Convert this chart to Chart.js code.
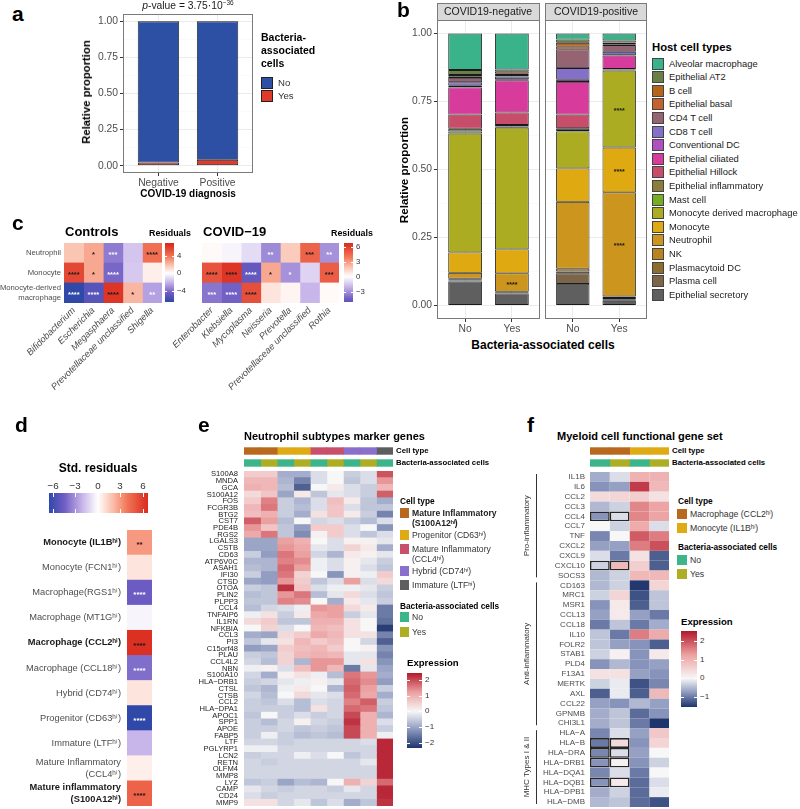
<!DOCTYPE html>
<html>
<head>
<meta charset="utf-8">
<title>Figura</title>
<script src="https://cdn.jsdelivr.net/npm/chart.js@4.4.1/dist/chart.umd.min.js"></script>
<style>
  body { margin: 0; background: #fff; }
  #fig { position: relative; width: 800px; height: 809px; overflow: hidden; font-family: "Liberation Sans", Arial, sans-serif; }
  #fig canvas { position: absolute; }
  .t { position: absolute; white-space: nowrap; line-height: 1.25; }
  .b { position: absolute; box-sizing: border-box; }
</style>
</head>
<body>
<div id="fig"></div>
<script>
// ------------------------------
// a: células con bacterias por diagnóstico
// ------------------------------
const diagnosticos = ["Negative", "Positive"];
const bactNo = [0.978, 0.959];
const bactYes = [0.022, 0.041];

// ------------------------------
// b: tipos celulares del huésped (orden de la leyenda)
// ------------------------------
const bactCats = ["No", "Yes"];
const cellTypes = ["Alveolar macrophage", "Epithelial AT2", "B cell", "Epithelial basal", "CD4 T cell", "CD8 T cell",
  "Conventional DC", "Epithelial ciliated", "Epithelial Hillock", "Epithelial inflammatory", "Mast cell",
  "Monocyte derived macrophage", "Monocyte", "Neutrophil", "NK", "Plasmacytoid DC", "Plasma cell", "Epithelial secretory"];
const cellColors = ["#3bb38a", "#6a7f46", "#b4651b", "#c4622d", "#946472", "#8470c9", "#b050c0", "#d73b9b", "#c84d6b",
  "#8b7d3a", "#77ad22", "#abac22", "#dfa912", "#cc961e", "#b9841f", "#8e6d2d", "#7b6649", "#5f5f5f"];
const negNo  = [0.134, 0.018, 0.005, 0.006, 0.016, 0.013, 0.006, 0.100, 0.052, 0.010, 0.008, 0.437, 0.075, 0.022, 0.004, 0.002, 0.004, 0.088];
const negYes = [0.132, 0.008, 0.008, 0.004, 0.006, 0.010, 0.004, 0.118, 0.046, 0.006, 0.004, 0.448, 0.088, 0.068, 0.002, 0.002, 0.002, 0.044];
const posNo  = [0.022, 0.012, 0.014, 0.010, 0.069, 0.043, 0.008, 0.120, 0.050, 0.007, 0.005, 0.136, 0.123, 0.246, 0.010, 0.007, 0.039, 0.079];
const posYes = [0.025, 0.008, 0.006, 0.003, 0.025, 0.012, 0.002, 0.049, 0.002, 0.002, 0.002, 0.283, 0.165, 0.383, 0.006, 0.004, 0.006, 0.017];
const negStars = { "Neutrophil": ["", "****"] };
const posStars = { "Monocyte derived macrophage": ["", "****"], "Monocyte": ["", "****"], "Neutrophil": ["", "****"] };

// ------------------------------
// c: residuos bacterias x tipo celular
// ------------------------------
const cRows = ["Neutrophil", "Monocyte", ["Monocyte-derived", "macrophage"]];
const ctrlGenera = ["Bifidobacterium", "Escherichia", "Megasphaera", "Prevotellaceae unclassified", "Shigella"];
const ctrlResid = [[1.8, 2.6, -3.6, -1.6, 4.2], [5.6, 2.6, -4.2, -1.5, 0.5], [-6.5, -5.2, 6.3, 2.2, -2.6]];
const ctrlStars = [["", "*", "***", "", "****"], ["****", "*", "****", "", ""], ["****", "****", "****", "*", "**"]];
const covGenera = ["Enterobacter", "Klebsiella", "Mycoplasma", "Neisseria", "Prevotella", "Prevotellaceae unclassified", "Rothia"];
const covResid = [[0.2, -0.3, -1.0, -3.2, 1.6, 4.6, -3.0], [5.2, 6.3, -4.8, 2.6, -3.0, -1.2, 4.8], [-3.8, -4.4, 5.3, 0.8, 0.3, -2.0, 0.2]];
const covStars = [["", "", "", "**", "", "***", "**"], ["****", "****", "****", "*", "*", "", "***"], ["***", "****", "****", "", "", "", ""]];

// ------------------------------
// d: subtipos mieloides
// ------------------------------
const dSubtypes = ["Monocyte (IL1Bʰⁱ)", "Monocyte (FCN1ʰⁱ)", "Macrophage(RGS1ʰⁱ)", "Macrophage (MT1Gʰⁱ)", "Macrophage (CCL2ʰⁱ)",
  "Macrophage (CCL18ʰⁱ)", "Hybrid (CD74ʰⁱ)", "Progenitor (CD63ʰⁱ)", "Immature (LTFʰⁱ)",
  ["Mature Inflammatory", "(CCL4ʰⁱ)"], ["Mature inflammatory", "(S100A12ʰⁱ)"]];
const dResid = [3.0, 0.8, -4.6, -0.3, 6.5, -4.0, 0.8, -6.5, -2.0, 0.5, 4.6];
const dStars = ["**", "", "****", "", "****", "****", "", "****", "", "", "****"];
const dBold = [true, false, false, false, true, false, false, false, false, false, true];

// ------------------------------
// e: genes marcadores de neutrófilos
// ------------------------------
const eColType = ["S100A12", "S100A12", "CD63", "CD63", "CCL4", "CCL4", "CD74", "CD74", "LTF"];
const eColBact = ["No", "Yes", "No", "Yes", "No", "Yes", "No", "Yes", "No"];
const eGenes = ["S100A8", "MNDA", "GCA", "S100A12", "FOS", "FCGR3B", "BTG2", "CST7", "PDE4B", "RGS2", "LGALS3", "CSTB", "CD63",
  "ATP6V0C", "ASAH1", "IFI30", "CTSD", "OTOA", "PLIN2", "PLPP3", "CCL4", "TNFAIP6", "IL1RN", "NFKBIA", "CCL3", "PI3",
  "C15orf48", "PLAU", "CCL4L2", "NBN", "S100A10", "HLA−DRB1", "CTSL", "CTSB", "CCL2", "HLA−DPA1", "APOC1", "SPP1",
  "APOE", "FABP5", "LTF", "PGLYRP1", "LCN2", "RETN", "OLFM4", "MMP8", "LYZ", "CAMP", "CD24", "MMP9"];
const eExpr = [
  [0.6, 0.6, -0.9, -0.9, -0.3, 0.0, -0.5, -0.3, 1.9],
  [0.9, 0.9, -0.8, -1.4, -0.3, 0.0, -0.6, -0.3, 1.3],
  [1.0, 0.9, -0.7, -1.8, 0.0, 0.2, -0.3, -0.5, 0.9],
  [0.4, 0.7, -1.0, 0.2, -0.6, -0.2, -0.3, -0.5, 1.8],
  [0.6, 1.5, -0.5, -0.8, -0.3, 0.8, 0.2, -0.6, -0.9],
  [0.9, 1.6, -0.5, -0.7, -0.3, 0.7, -0.3, -0.6, -0.6],
  [0.8, 1.0, -0.5, -0.9, 0.3, 0.7, 0.2, -0.5, -1.4],
  [1.8, 1.2, -0.7, 0.0, -0.4, -0.3, -0.5, -0.7, -0.3],
  [1.3, 0.7, -0.6, -1.1, 0.6, 0.6, -0.3, 0.0, -1.2],
  [1.1, 1.6, -0.6, -1.3, 0.1, 0.6, -0.3, -0.6, -0.3],
  [-1.0, -1.0, 1.2, 1.0, 0.0, -0.3, 0.1, 0.1, -0.2],
  [-1.0, -1.0, 1.3, 1.1, -0.2, -0.3, 0.5, 0.2, -0.9],
  [-0.5, -1.1, 1.6, 1.2, -0.4, -0.8, 0.2, 0.1, -0.2],
  [-0.8, -0.8, 1.5, 1.4, -0.1, -0.3, 0.1, -0.2, -0.5],
  [-0.7, -0.8, 1.7, 1.2, -0.1, -0.3, 0.1, -0.3, -0.6],
  [-0.5, -1.1, 1.6, 0.5, 0.0, -1.2, 0.1, -0.1, 0.6],
  [-1.0, -1.1, 1.3, 0.6, -0.6, -0.3, 1.2, -0.3, 0.4],
  [-0.5, -0.6, 2.2, 0.7, -0.3, -0.1, -0.1, -0.2, -0.5],
  [-0.7, -0.6, 1.3, 1.6, -0.7, -0.2, 0.4, -0.3, -0.6],
  [-0.6, -0.6, 1.5, 1.4, 0.0, -0.9, 0.2, -0.2, -0.5],
  [-0.7, -0.4, -0.3, -0.1, 1.3, 1.2, 0.4, 0.2, -1.5],
  [-0.1, 0.3, -0.5, 0.2, 1.1, 1.2, -0.5, -0.2, -1.5],
  [0.4, 0.6, -0.6, -0.6, 1.0, 1.0, 0.3, 0.0, -1.6],
  [0.0, 0.5, -0.3, 0.0, 0.9, 0.8, 0.3, 0.0, -2.2],
  [-0.9, -1.0, 0.4, 0.6, 1.1, 0.9, 0.3, 0.3, -1.4],
  [-0.6, -0.2, 0.3, 0.9, 0.6, 0.8, 0.0, -0.4, -1.8],
  [-1.1, -1.0, 0.6, 0.8, 0.9, 0.6, 0.0, 0.1, -1.2],
  [-0.5, -0.6, 0.5, 0.9, 1.0, 0.9, -0.2, -0.2, -1.4],
  [-0.4, -0.7, 0.5, -0.8, 1.3, 1.3, -0.2, 0.3, -1.2],
  [-0.1, 0.1, -0.3, 0.8, 1.3, 0.9, -1.5, -0.2, -1.0],
  [-0.4, -0.9, 0.1, 0.3, -0.1, -0.7, 1.6, 1.3, -0.9],
  [-0.5, -0.4, -0.2, -0.1, 0.1, -0.2, 1.7, 1.4, -1.1],
  [-0.6, -0.8, -0.1, 0.2, 0.0, -0.8, 1.8, 1.2, -0.5],
  [-0.4, -0.7, 0.0, 0.4, -0.2, -0.3, 1.7, 1.1, -0.9],
  [-0.5, -0.6, -0.3, -0.7, -0.3, -0.4, 1.5, 1.8, -0.5],
  [-0.5, -0.5, -0.5, -0.7, 0.3, -0.4, 1.7, 1.6, -0.6],
  [-0.6, 0.0, -0.5, -0.3, -0.5, -0.4, 2.0, 1.0, -0.8],
  [-0.5, -0.7, -0.4, 0.1, -0.4, -0.5, 2.2, 1.0, -0.3],
  [-0.5, -0.5, -0.4, -0.6, -0.5, -0.6, 2.0, 1.0, -0.5],
  [-0.5, -0.1, -0.5, -0.7, -0.6, -0.7, 2.0, 1.0, -0.1],
  [-0.4, -0.4, -0.5, -0.4, -0.4, -0.4, -0.4, -0.3, 2.3],
  [-0.1, -0.1, -0.4, -0.4, -0.4, -0.4, -0.4, -0.4, 2.3],
  [-0.5, -0.4, -0.4, -0.1, -0.3, 0.0, -0.6, -0.4, 2.3],
  [-0.4, -0.5, -0.4, -0.4, -0.4, -0.4, -0.4, -0.2, 2.3],
  [-0.4, -0.4, -0.4, -0.4, -0.4, -0.4, -0.4, -0.4, 2.3],
  [-0.4, -0.4, -0.4, -0.4, -0.4, -0.4, -0.4, -0.4, 2.3],
  [-0.6, -0.5, -1.0, -0.7, -0.8, 0.0, 1.0, 0.5, 1.7],
  [-0.2, -0.4, -0.5, -0.4, -0.4, -0.5, -0.2, -0.4, 2.3],
  [-0.3, -0.5, -0.4, -0.4, -0.4, -0.4, -0.4, -0.4, 2.3],
  [0.3, 0.3, -0.4, -0.2, -0.6, -0.3, -0.9, -0.6, 2.2]
];

// ------------------------------
// f: genes funcionales mieloides
// ------------------------------
const fColType = ["CCL2", "CCL2", "IL1B", "IL1B"];
const fColBact = ["No", "Yes", "No", "Yes"];
const fGenes = ["IL1B", "IL6", "CCL2", "CCL3", "CCL4", "CCL7", "TNF", "CXCL2", "CXCL9", "CXCL10", "SOCS3",
  "CD163", "MRC1", "MSR1", "CCL13", "CCL18", "IL10", "FOLR2", "STAB1", "PLD4", "F13A1", "MERTK", "AXL", "CCL22", "GPNMB", "CHI3L1",
  "HLA−A", "HLA−B", "HLA−DRA", "HLA−DRB1", "HLA−DQA1", "HLA−DQB1", "HLA−DPB1", "HLA−DMB"];
const fGroups = ["Pro-inflammatory", "Anti-inflammatory", "MHC Types I & II"];
const fGroupSizes = [11, 15, 8];
const fBoxedGenes = ["CCL4", "CXCL10", "HLA−B", "HLA−DRA", "HLA−DRB1", "HLA−DQB1"];
const fExpr = [
  [-0.6, -0.2, 1.0, 1.0], [-0.8, -0.7, 2.2, 0.9], [0.4, 0.5, 0.6, 0.3], [-0.5, -0.3, 1.5, 1.2],
  [-0.8, -0.2, 1.5, 1.2], [0.0, -0.3, 1.1, -0.2], [-0.9, 0.0, 1.9, 1.6], [-0.7, -0.7, 1.6, 2.0],
  [-0.2, -1.0, 0.3, -1.2], [-0.3, 0.9, 0.6, -1.2], [-0.5, -0.3, 0.9, 0.9],
  [-0.5, -0.3, -1.5, 0.5], [-0.3, 0.5, -1.3, -0.4], [-0.8, 0.2, -1.2, -0.4], [-0.7, 0.2, -0.7, -1.0],
  [-1.0, -0.4, -1.0, -0.6], [-0.4, -1.0, 1.6, 1.1], [-0.4, -0.7, -0.8, -1.2], [-0.3, 0.1, -0.8, 0.2],
  [-0.8, -0.5, -0.8, -0.7], [0.3, 0.3, -0.7, -0.8], [-0.3, -0.1, -1.3, -0.9], [-1.2, -0.1, -1.2, 0.9],
  [-0.7, -0.8, -0.5, -0.7], [-0.6, -0.4, -1.1, -0.8], [-0.6, -0.4, -1.0, -1.6],
  [-0.9, -0.2, -0.7, 0.7], [-1.0, 0.4, -0.8, 0.5], [-0.9, -0.2, -0.7, 0.0], [-0.8, 0.1, -0.8, -0.3],
  [-0.9, -0.2, -1.0, 0.0], [-0.8, 0.2, -1.1, -0.2], [-0.6, -0.3, -1.1, -0.1], [-0.5, -0.4, -1.1, -1.3]
];

// colores de anotación
const subtypeColors = { S100A12: "#b8691e", CD63: "#dfaa14", CCL4: "#c8506a", CD74: "#8a6fcc", LTF: "#5e5e5e", CCL2: "#b8691e", IL1B: "#dfaa14" };
const bactColors = { No: "#3cb58a", Yes: "#adae23" };

// ------------------------------
// utilidades
// ------------------------------
const FONT = '"Liberation Sans", Arial, sans-serif';
const fig = document.getElementById("fig");

function put(html, x, y, st) {
  st = st || {};
  const d = document.createElement("div");
  d.className = "t";
  d.innerHTML = html;
  const s = d.style;
  s.left = x + "px"; s.top = y + "px";
  s.fontSize = (st.size || 10) + "px";
  s.fontWeight = st.bold ? "bold" : "normal";
  s.color = st.color || "#1a1a1a";
  if (st.italic) s.fontStyle = "italic";
  const ax = st.align === "center" ? "-50%" : st.align === "right" ? "-100%" : "0";
  s.transform = "translate(" + ax + ",-50%)" + (st.rot ? " rotate(" + st.rot + "deg)" : "");
  fig.appendChild(d);
}

function rect(x, y, w, h, fill, border) {
  const d = document.createElement("div");
  d.className = "b";
  d.style.cssText = `left:${x}px;top:${y}px;width:${w}px;height:${h}px;background:${fill};` + (border ? `border:1px solid ${border};` : "");
  fig.appendChild(d);
}

function canvas(b) {
  const c = document.createElement("canvas");
  c.width = b[2]; c.height = b[3];
  c.style.left = b[0] + "px"; c.style.top = b[1] + "px";
  c.style.width = b[2] + "px"; c.style.height = b[3] + "px";
  fig.appendChild(c);
  return c;
}

function lerpStops(stops, v) {
  if (v <= stops[0][0]) return stops[0][1];
  for (let k = 1; k < stops.length; k++) {
    if (v <= stops[k][0]) {
      const a = stops[k - 1], b = stops[k], t = (v - a[0]) / (b[0] - a[0]);
      return a[1].map((c, i) => Math.round(c + (b[1][i] - c) * t));
    }
  }
  return stops[stops.length - 1][1];
}
const rgb = c => `rgb(${c[0]},${c[1]},${c[2]})`;

const residStops = [[-6.6, [45, 72, 168]], [-4.5, [110, 92, 195]], [-2.2, [195, 175, 232]], [0, [255, 255, 255]],
  [2.0, [250, 190, 170]], [4.0, [242, 115, 85]], [6.6, [218, 45, 32]]];
const residColor = v => rgb(lerpStops(residStops, v));

function exprColor(lo, hi) {
  return v => rgb(v >= 0
    ? lerpStops([[0, [247, 247, 247]], [hi * 0.5, [236, 160, 160]], [hi, [178, 24, 43]]], v)
    : lerpStops([[lo, [30, 52, 108]], [lo * 0.5, [140, 152, 190]], [0, [247, 247, 247]]], v));
}
const eColor = exprColor(-2.32, 2.44);
const fColor = exprColor(-1.53, 2.53);

function colorbar(x, y, w, h, lo, hi, colorFn, ticks, vertical, fs) {
  const stops = [];
  for (let k = 0; k <= 40; k++) stops.push(colorFn(lo + (hi - lo) * k / 40) + " " + (k * 2.5) + "%");
  const d = document.createElement("div");
  d.className = "b";
  d.style.cssText = `left:${x}px;top:${y}px;width:${w}px;height:${h}px;background:linear-gradient(${vertical ? "to top" : "to right"},${stops.join(",")})`;
  fig.appendChild(d);
  ticks.forEach(v => {
    const f = (v - lo) / (hi - lo);
    const lab = v < 0 ? "−" + Math.abs(v) : String(v);
    if (vertical) {
      const py = Math.round(y + h - f * h);
      rect(x, py, w * 0.2, 1, "#fff");
      rect(x + w * 0.8, py, w * 0.2, 1, "#fff");
      put(lab, x + w + 3, py, { size: fs, color: "#333" });
    } else {
      const px = Math.round(x + f * w);
      rect(px, y, 1, h * 0.2, "#fff");
      rect(px, y + h * 0.8, 1, h * 0.2, "#fff");
      put(lab, px, y - 7, { size: fs, color: "#333", align: "center" });
    }
  });
}

// marco del panel (theme_bw)
const frame = {
  id: "frame",
  afterDraw(chart) {
    const a = chart.chartArea, c = chart.ctx;
    c.save();
    c.strokeStyle = "#7a7a7a"; c.lineWidth = 1;
    c.strokeRect(Math.round(a.left) + 0.5, Math.round(a.top) + 0.5, Math.round(a.width) - 1, Math.round(a.height) - 1);
    c.restore();
  }
};

// asteriscos en el centro de cada celda / segmento
function cellStars(textAt, colorAt, size) {
  return {
    id: "cellStars",
    afterDatasetsDraw(chart) {
      const c = chart.ctx, horiz = chart.options.indexAxis === "y";
      c.save();
      c.font = `bold ${size}px ${FONT}`;
      c.textAlign = "center"; c.textBaseline = "middle";
      chart.data.datasets.forEach((ds, di) => {
        chart.getDatasetMeta(di).data.forEach((el, i) => {
          const s = textAt(di, i);
          if (!s) return;
          const x = horiz ? (el.x + el.base) / 2 : el.x;
          const y = horiz ? el.y : (el.y + el.base) / 2;
          c.fillStyle = colorAt(di, i);
          c.fillText(s, x, y + size * 0.3);
        });
      });
      c.restore();
    }
  };
}

// barras apiladas estilo ggplot
function stackChart(box, cats, series, colors, plugins, o) {
  const yTicks = [0, 0.125, 0.25, 0.375, 0.5, 0.625, 0.75, 0.875, 1];
  const major = v => Math.abs(v * 4 - Math.round(v * 4)) < 1e-6;
  return new Chart(canvas(box), {
    type: "bar",
    data: {
      datasets: series.map((vals, k) => ({
        data: vals.map((v, i) => ({ x: i, y: v })),
        backgroundColor: colors[k], borderColor: "#1a1a1a", borderWidth: 0.9, borderSkipped: false,
        barPercentage: o.barPct, categoryPercentage: 1, inflateAmount: 0
      }))
    },
    options: {
      responsive: false, animation: false, events: [],
      layout: { padding: { top: o.top, left: 0, right: 0, bottom: 0 } },
      plugins: { legend: { display: false }, tooltip: { enabled: false } },
      scales: {
        x: {
          type: "linear", stacked: true, offset: false, min: -0.6, max: cats.length - 0.4,
          afterBuildTicks: s => { s.ticks = cats.map((c, i) => ({ value: i })); },
          ticks: { callback: (v, i) => cats[i], color: "#4d4d4d", font: { size: 10.3, family: FONT }, padding: 1, maxRotation: 0, autoSkip: false },
          grid: { offset: false, color: "#ebebeb", tickColor: "#333", tickLength: 3 },
          border: { display: false },
          afterFit: s => { s.height = o.xH; s.paddingLeft = 0; s.paddingRight = 0; }
        },
        y: {
          stacked: true, min: -0.05, max: 1.05,
          afterBuildTicks: s => { s.ticks = yTicks.map(v => ({ value: v })); },
          ticks: { display: o.yW > 0, callback: v => major(v) ? v.toFixed(2) : "", color: "#4d4d4d", font: { size: 10.3, family: FONT }, padding: 2, autoSkip: false },
          grid: {
            color: c => major(c.tick.value) ? "#ebebeb" : "#f6f6f6",
            lineWidth: c => major(c.tick.value) ? 1 : 0.6,
            drawTicks: o.yW > 0, tickLength: 3,
            tickColor: c => major(c.tick.value) ? "#333" : "rgba(0,0,0,0)"
          },
          border: { display: false },
          afterFit: s => { s.width = o.yW; s.paddingTop = 0; s.paddingBottom = 0; }
        }
      }
    },
    plugins: [frame].concat(plugins)
  });
}

// mapa de calor con barras horizontales apiladas (una serie por columna)
function heatmap(box, rows, colors2D, o) {
  const nCol = colors2D[0].length;
  const datasets = [];
  for (let j = 0; j < nCol; j++) {
    datasets.push({
      data: rows.map(() => 1),
      backgroundColor: colors2D.map(r => r[j]),
      borderColor: o.boxed ? o.boxed.map(r => r[j] ? "#262626" : "rgba(0,0,0,0)") : "rgba(0,0,0,0)",
      borderWidth: o.boxed ? o.boxed.map(r => r[j] ? 1.6 : 0) : 0,
      borderSkipped: false, barPercentage: 1, categoryPercentage: o.catPct || 1,
      inflateAmount: o.boxed ? 0 : 0.4
    });
  }
  const xLab = o.xLabels;
  return new Chart(canvas(box), {
    type: "bar",
    data: { labels: rows, datasets },
    options: {
      indexAxis: "y", responsive: false, animation: false, events: [],
      layout: { padding: { left: o.padLeft || 0, top: 0, right: 0, bottom: 0 } },
      plugins: { legend: { display: false }, tooltip: { enabled: false } },
      scales: {
        x: {
          stacked: true, min: 0, max: nCol, display: !!xLab,
          afterBuildTicks: s => { if (xLab) s.ticks = xLab.map((c, i) => ({ value: i + 0.5 })); },
          ticks: {
            callback: (v, i) => xLab ? xLab[i] : "", autoSkip: false, minRotation: 45, maxRotation: 45,
            color: "#4d4d4d", font: { size: 9.3, family: FONT, style: "italic" }, padding: 2
          },
          grid: { display: false, drawTicks: false }, border: { display: false },
          afterFit: s => { s.height = o.xH || 0; s.paddingLeft = 0; s.paddingRight = 0; }
        },
        y: {
          stacked: true, display: (o.yW || 0) > 0,
          grid: { display: false, drawTicks: false }, border: { display: false },
          ticks: {
            autoSkip: false, padding: o.yPad || 3,
            color: o.tickColor || "#4d4d4d",
            font: o.tickFont || { size: 8, family: FONT }
          },
          afterFit: s => { s.width = o.yW || 0; s.paddingTop = 0; s.paddingBottom = 0; }
        }
      }
    },
    plugins: o.plugins || []
  });
}

// líneas y rótulos de grupos de genes (panel f)
function geneGroups(names, sizes, lineOff, labOff) {
  return {
    id: "geneGroups",
    afterDraw(chart) {
      const y = chart.scales.y, c = chart.ctx, L = chart.chartArea.left;
      const half = (y.getPixelForValue(1) - y.getPixelForValue(0)) / 2;
      c.save();
      c.strokeStyle = "#333"; c.fillStyle = "#333"; c.lineWidth = 1;
      c.font = `8px ${FONT}`; c.textAlign = "center"; c.textBaseline = "middle";
      let start = 0;
      names.forEach((name, g) => {
        const end = start + sizes[g] - 1;
        const y0 = y.getPixelForValue(start) - half + 2, y1 = y.getPixelForValue(end) + half - 3;
        c.beginPath(); c.moveTo(L - lineOff + 0.5, y0); c.lineTo(L - lineOff + 0.5, y1); c.stroke();
        c.save(); c.translate(L - labOff, (y0 + y1) / 2); c.rotate(-Math.PI / 2); c.fillText(name, 0, 0); c.restore();
        start = end + 1;
      });
      c.restore();
    }
  };
}

// ------------------------------
// Panel a
// ------------------------------
stackChart([70, 0, 183, 190], diagnosticos, [bactYes, bactNo], ["#e03a2c", "#2d50a5"], [],
  { top: 14, yW: 53, xH: 17, barPct: 0.7 });
put("a", 12, 14, { size: 21, bold: true, color: "#000" });
put("<i>p</i>-value = 3.75·10<sup style='font-size:6.5px'>−36</sup>", 188, 6, { size: 10.3, align: "center" });
put("Relative proportion", 86, 92, { size: 11.3, bold: true, align: "center", rot: -90, color: "#000" });
put("COVID-19 diagnosis", 188, 194, { size: 10, bold: true, align: "center", color: "#000" });
put("Bacteria-<br>associated<br>cells", 261, 51, { size: 10.5, bold: true, color: "#000" });
rect(261, 77, 12, 12, "#2d50a5", "#222");
rect(261, 90, 12, 12, "#e03a2c", "#222");
put("No", 278, 83, { size: 9.6, color: "#333" });
put("Yes", 278, 96, { size: 9.6, color: "#333" });

// ------------------------------
// Panel b
// ------------------------------
const revTypes = cellTypes.slice().reverse();
const revColors = cellColors.slice().reverse();
const idx = t => cellTypes.indexOf(t);
stackChart([400, 0, 140, 335], bactCats, revTypes.map(t => [negNo[idx(t)], negYes[idx(t)]]), revColors,
  [cellStars((di, i) => (negStars[revTypes[di]] || [])[i], () => "#1a1a1a", 7)],
  { top: 20, yW: 37, xH: 16, barPct: 0.72 });
stackChart([545, 0, 102, 335], bactCats, revTypes.map(t => [posNo[idx(t)], posYes[idx(t)]]), revColors,
  [cellStars((di, i) => (posStars[revTypes[di]] || [])[i], () => "#1a1a1a", 7)],
  { top: 20, yW: 0, xH: 16, barPct: 0.72 });
put("b", 397, 10, { size: 21, bold: true, color: "#000" });
rect(437, 3, 103, 18, "#d9d9d9", "#7a7a7a");
rect(545, 3, 102, 18, "#d9d9d9", "#7a7a7a");
put("COVID19-negative", 488, 12, { size: 10.5, align: "center" });
put("COVID19-positive", 596, 12, { size: 10.5, align: "center" });
put("Relative proportion", 404, 170, { size: 11.6, bold: true, align: "center", rot: -90, color: "#000" });
put("Bacteria-associated cells", 543, 345, { size: 12, bold: true, align: "center", color: "#000" });
put("Host cell types", 652, 47, { size: 11.3, bold: true, color: "#000" });
cellTypes.forEach((t, k) => {
  const yc = 63.5 + k * 13.6;
  rect(652, yc - 6, 12, 12, cellColors[k], "#444");
  put(t, 669, yc, { size: 9.4 });
});

// ------------------------------
// Panel c
// ------------------------------
const whiteOrBlack = v => v < 0 ? "#ffffff" : "#1a1a1a";
heatmap([0, 243, 162, 160], cRows, ctrlResid.map(r => r.map(residColor)), {
  yW: 64, yPad: 3, xH: 100, xLabels: ctrlGenera,
  tickFont: { size: 7.7, family: FONT },
  plugins: [cellStars((j, i) => ctrlStars[i][j], (j, i) => whiteOrBlack(ctrlResid[i][j]), 7.5)]
});
heatmap([160, 243, 179, 160], cRows, covResid.map(r => r.map(residColor)), {
  yW: 0, padLeft: 42, xH: 100, xLabels: covGenera,
  plugins: [cellStars((j, i) => covStars[i][j], (j, i) => whiteOrBlack(covResid[i][j]), 7.5)]
});
put("c", 12, 223, { size: 21, bold: true, color: "#000" });
put("Controls", 65, 232, { size: 13, bold: true, color: "#000" });
put("COVID−19", 203, 232, { size: 13, bold: true, color: "#000" });
put("Residuals", 149, 234, { size: 8.9, bold: true, color: "#000" });
put("Residuals", 331, 234, { size: 8.9, bold: true, color: "#000" });
colorbar(165, 243, 9, 59, -6.6, 7.0, residColor, [-4, 0, 4], true, 7.8);
colorbar(344, 243, 9, 59, -5.1, 6.7, residColor, [-3, 0, 3, 6], true, 7.8);

// ------------------------------
// Panel d
// ------------------------------
heatmap([0, 530, 152, 276], dSubtypes, dResid.map(v => [residColor(v)]), {
  yW: 127, yPad: 6,
  tickFont: c => ({ size: 9.3, family: FONT, weight: dBold[c.index] ? "bold" : "normal" }),
  tickColor: c => dBold[c.index] ? "#1a1a1a" : "#4d4d4d",
  plugins: [cellStars((j, i) => dStars[i], (j, i) => whiteOrBlack(dResid[i]), 8)]
});
put("d", 15, 425, { size: 21, bold: true, color: "#000" });
put("Std. residuals", 98, 468, { size: 12, bold: true, align: "center", color: "#000" });
colorbar(49, 493, 99, 20, -6.5, 6.7, residColor, [-6, -3, 0, 3, 6], false, 9.8);

// ------------------------------
// Panel e
// ------------------------------
heatmap([244, 445, 149, 24], ["Cell type", "Bacteria-associated cells"],
  [eColType.map(t => subtypeColors[t]), eColBact.map(b => bactColors[b])], { catPct: 0.55 });
heatmap([176, 471, 217, 335], eGenes, eExpr.map(r => r.map(eColor)), {
  yW: 68, yPad: 6, tickFont: { size: 7.6, family: FONT }, tickColor: "#222"
});
put("e", 198, 425, { size: 21, bold: true, color: "#000" });
put("Neutrophil subtypes marker genes", 244, 437, { size: 11, bold: true, color: "#000" });
put("Cell type", 396, 451, { size: 7.8, bold: true, color: "#000" });
put("Bacteria-associated cells", 396, 463, { size: 7.8, bold: true, color: "#000" });
put("Cell type", 400, 501, { size: 8.3, bold: true, color: "#000" });
rect(400, 508, 9, 10, subtypeColors.S100A12);
put("Mature Inflammatory<br>(S100A12ʰⁱ)", 412, 518.5, { size: 8.6, bold: true, color: "#222" });
rect(400, 530, 9, 10, subtypeColors.CD63);
put("Progenitor (CD63ʰⁱ)", 412, 535, { size: 8.6, color: "#333" });
rect(400, 544, 9, 10, subtypeColors.CCL4);
put("Mature Inflammatory<br>(CCL4ʰⁱ)", 412, 554.5, { size: 8.6, color: "#333" });
rect(400, 566, 9, 10, subtypeColors.CD74);
put("Hybrid (CD74ʰⁱ)", 412, 571, { size: 8.6, color: "#333" });
rect(400, 580, 9, 10, subtypeColors.LTF);
put("Immature (LTFʰⁱ)", 412, 585, { size: 8.6, color: "#333" });
put("Bacteria-associated cells", 400, 606, { size: 8.3, bold: true, color: "#000" });
rect(400, 612, 9, 10, bactColors.No);
put("No", 412, 617, { size: 8.6, color: "#333" });
rect(400, 627, 9, 10, bactColors.Yes);
put("Yes", 412, 632, { size: 8.6, color: "#333" });
put("Expression", 407, 663, { size: 9.6, bold: true, color: "#000" });
colorbar(407, 673, 15, 75, -2.32, 2.44, eColor, [-2, -1, 0, 1, 2], true, 8);

// ------------------------------
// Panel f
// ------------------------------
heatmap([590, 445, 79, 24], ["Cell type", "Bacteria-associated cells"],
  [fColType.map(t => subtypeColors[t]), fColBact.map(b => bactColors[b])], { catPct: 0.55 });
heatmap([515, 472, 154, 335], fGenes, fExpr.map(r => r.map(fColor)), {
  yW: 75, yPad: 5, tickFont: { size: 8, family: FONT }, tickColor: "#4d4d4d",
  boxed: fGenes.map(g => fColType.map((t, j) => fBoxedGenes.includes(g) && j < 2)),
  plugins: [geneGroups(fGroups, fGroupSizes, 54, 63)]
});
put("f", 527, 425, { size: 21, bold: true, color: "#000" });
put("Myeloid cell functional gene set", 557, 437, { size: 11, bold: true, color: "#000" });
put("Cell type", 672, 451, { size: 7.8, bold: true, color: "#000" });
put("Bacteria-associated cells", 672, 463, { size: 7.8, bold: true, color: "#000" });
put("Cell type", 678, 501, { size: 8.3, bold: true, color: "#000" });
rect(677, 509, 10, 10, subtypeColors.CCL2);
put("Macrophage (CCL2ʰⁱ)", 690, 514, { size: 8.7, color: "#333" });
rect(677, 523, 10, 10, subtypeColors.IL1B);
put("Monocyte (IL1Bʰⁱ)", 690, 528, { size: 8.7, color: "#333" });
put("Bacteria-associated cells", 678, 547, { size: 8.3, bold: true, color: "#000" });
rect(677, 555, 10, 10, bactColors.No);
put("No", 690, 560, { size: 8.7, color: "#333" });
rect(677, 569, 10, 10, bactColors.Yes);
put("Yes", 690, 574, { size: 8.7, color: "#333" });
put("Expression", 681, 622, { size: 9.6, bold: true, color: "#000" });
colorbar(681, 631, 16, 76, -1.53, 2.53, fColor, [-1, 0, 1, 2], true, 8);
</script>
</body>
</html>
